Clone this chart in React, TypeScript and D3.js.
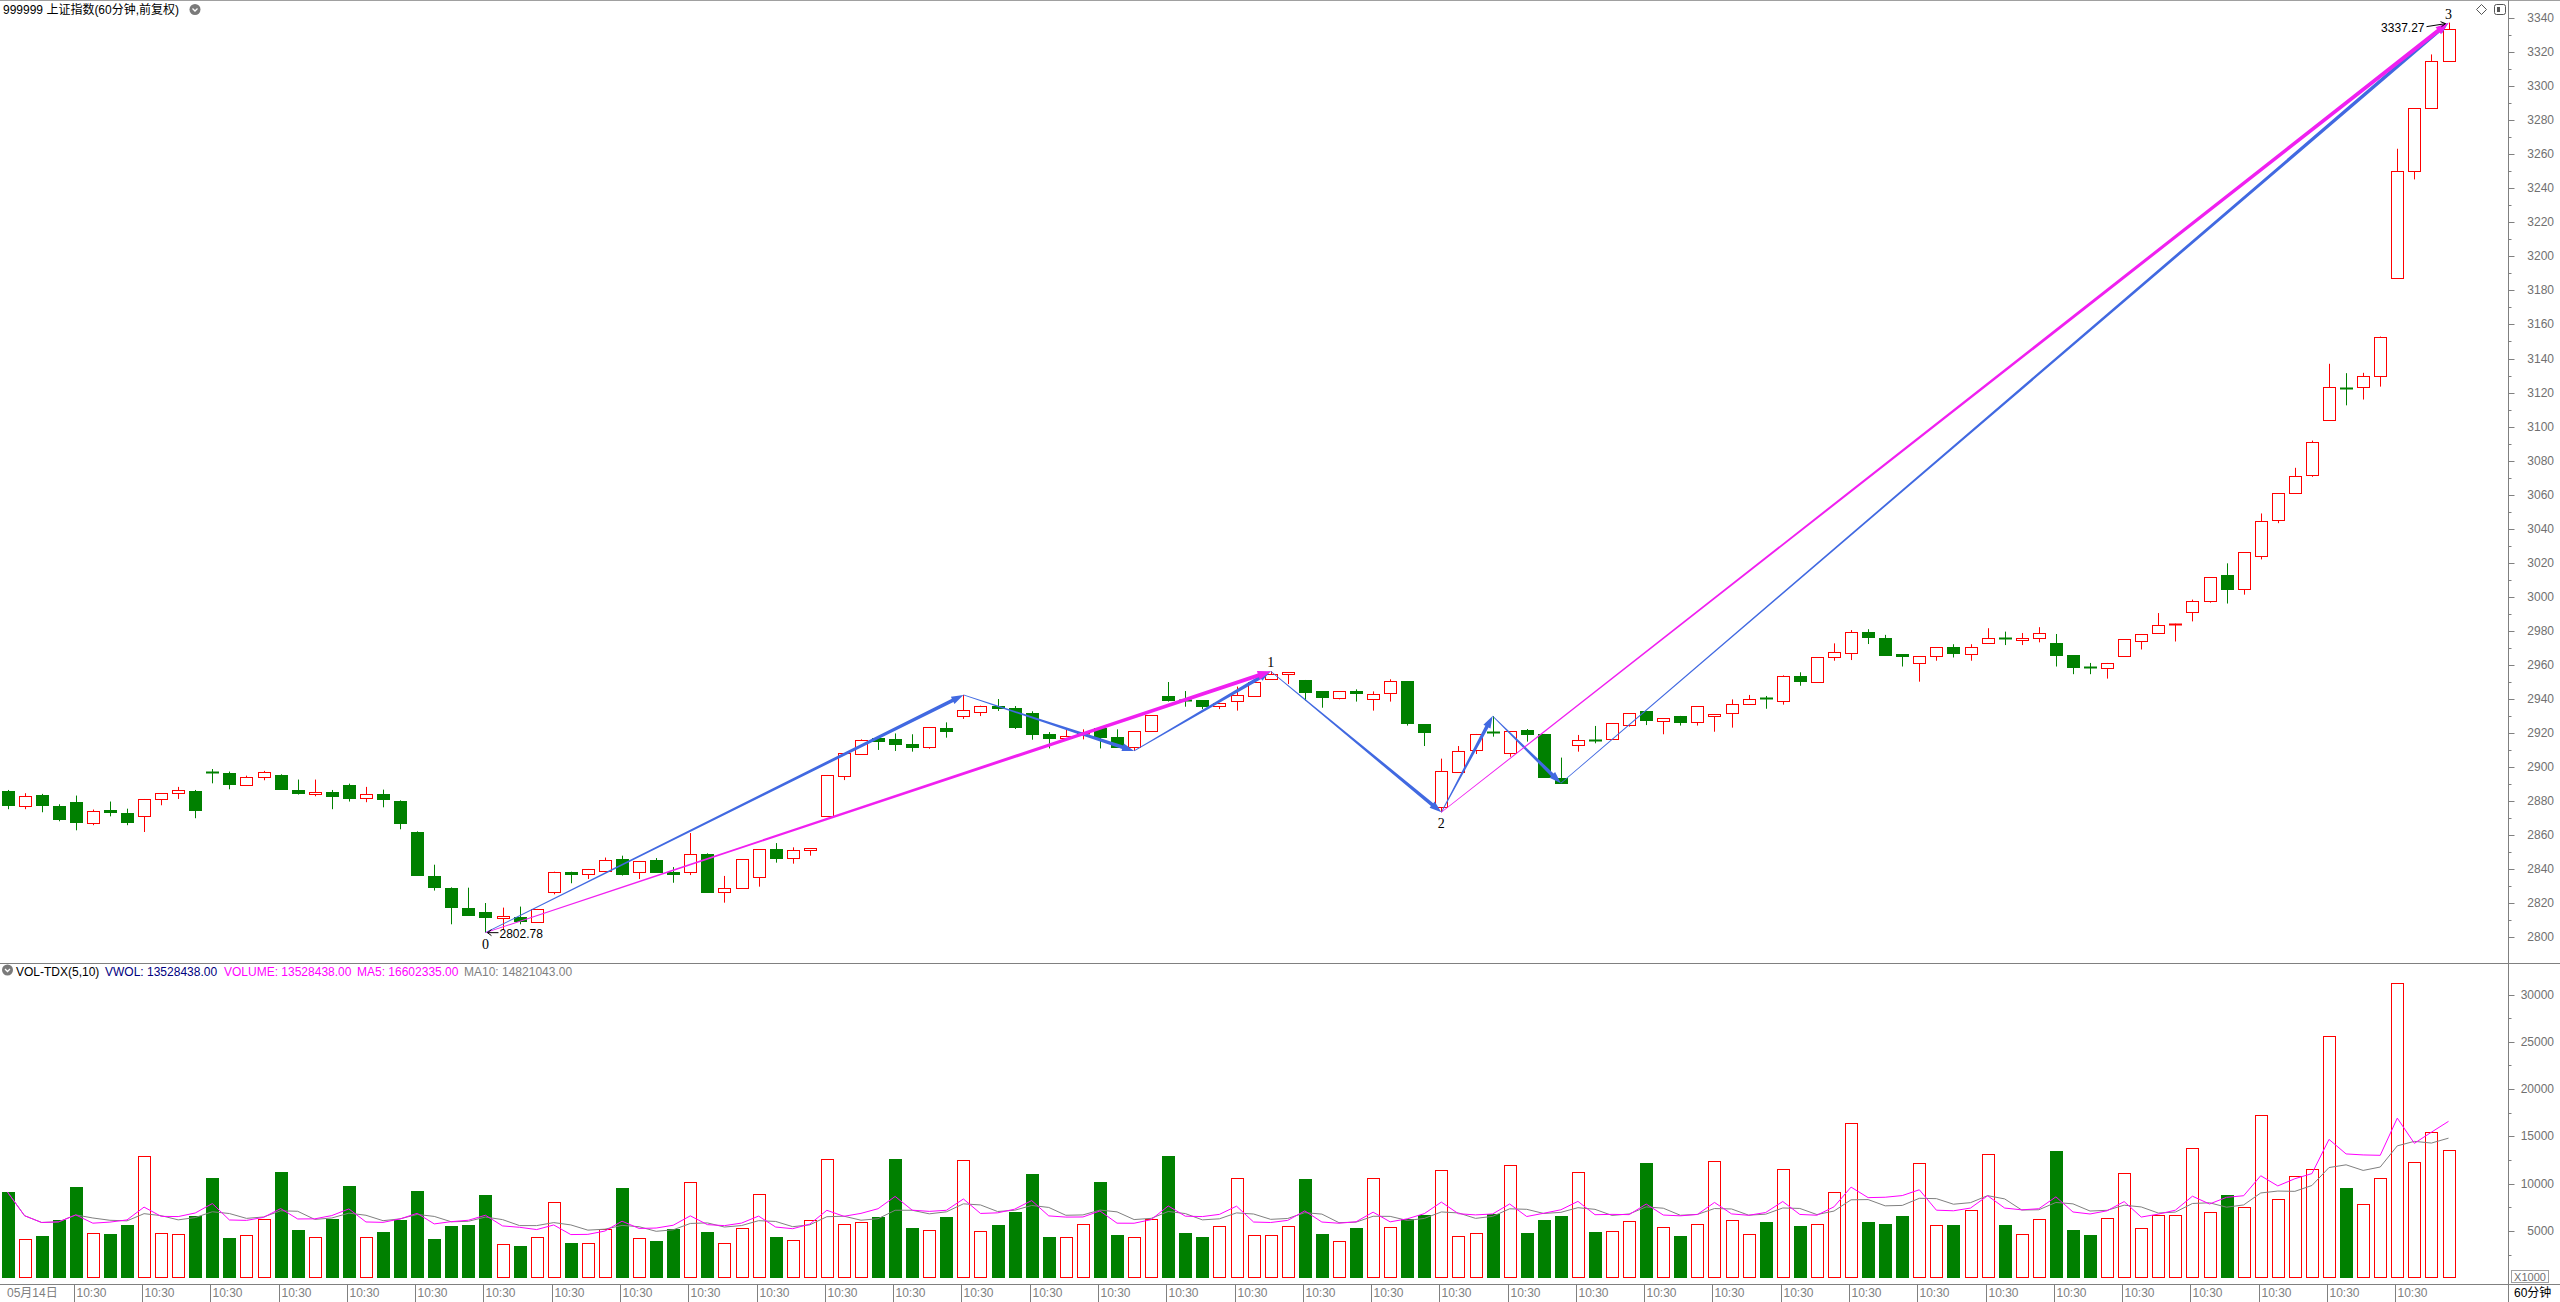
import * as d3 from 'd3';
import { useEffect, useRef } from 'react';

// 60-minute bars, 999999 上证指数
const opens = [
  2886.2, 2877.2, 2883.9, 2877.4, 2879.8, 2867.2, 2875.1, 2873.3, 2871.3, 2881.3, 2884.8, 2886.2,
  2896.9, 2896.8, 2889.5, 2894.2, 2895.6, 2886.8, 2884.1, 2885.6, 2889.7, 2881.9, 2884.5, 2880.3,
  2862.1, 2836.3, 2829.2, 2817.5, 2815.1, 2811.4, 2812.2, 2808.9, 2826.5, 2838.2, 2837.3, 2839.0,
  2846.3, 2838.2, 2845.4, 2838.4, 2838.2, 2849.0, 2826.5, 2828.8, 2835.3, 2851.9, 2846.4, 2851.1,
  2871.5, 2895.0, 2907.9, 2917.1, 2916.5, 2913.6, 2912.0, 2923.0, 2930.2, 2932.6, 2935.9, 2934.5,
  2931.6, 2919.5, 2916.9, 2919.3, 2922.8, 2917.7, 2911.6, 2921.0, 2941.6, 2939.2, 2939.4, 2935.7,
  2939.0, 2942.0, 2952.0, 2954.5, 2951.2, 2944.7, 2940.8, 2944.5, 2939.8, 2943.3, 2950.6, 2925.3,
  2876.4, 2897.3, 2909.9, 2920.8, 2908.1, 2921.8, 2919.5, 2893.4, 2912.8, 2916.1, 2916.3, 2924.9,
  2933.0, 2927.3, 2930.1, 2926.3, 2929.8, 2931.6, 2936.9, 2940.4, 2938.6, 2953.3, 2950.2, 2964.5,
  2966.8, 2979.6, 2975.6, 2966.2, 2961.0, 2965.2, 2970.4, 2966.5, 2972.7, 2975.9, 2974.6, 2975.6,
  2973.0, 2965.7, 2958.6, 2958.1, 2965.2, 2974.3, 2979.0, 2983.7, 2991.4, 2997.4, 3013.1, 3004.5,
  3023.9, 3045.1, 3060.8, 3071.3, 3103.6, 3122.7, 3123.0, 3129.5, 3187.5, 3250.4, 3287.1, 3314.6,
];
const highs = [
  2886.6, 2884.7, 2884.3, 2878.2, 2883.3, 2875.1, 2879.8, 2875.6, 2881.3, 2884.8, 2888.4, 2886.6,
  2898.9, 2897.4, 2895.0, 2897.8, 2895.8, 2892.7, 2892.7, 2886.6, 2890.3, 2888.4, 2886.8, 2880.5,
  2862.3, 2842.7, 2829.4, 2829.2, 2820.2, 2817.5, 2818.1, 2816.7, 2838.6, 2838.6, 2840.2, 2846.9,
  2848.0, 2844.9, 2846.6, 2841.3, 2861.3, 2849.4, 2836.1, 2845.8, 2851.7, 2855.4, 2852.9, 2852.3,
  2895.4, 2908.1, 2916.3, 2917.1, 2919.8, 2919.3, 2923.4, 2926.3, 2942.4, 2936.1, 2940.0, 2935.9,
  2932.8, 2920.6, 2922.0, 2922.2, 2922.8, 2922.2, 2921.0, 2930.4, 2950.0, 2944.7, 2939.4, 2937.5,
  2947.3, 2950.2, 2956.3, 2955.7, 2951.2, 2944.7, 2944.5, 2945.7, 2944.5, 2951.6, 2950.6, 2925.3,
  2905.0, 2912.4, 2919.5, 2930.0, 2921.2, 2922.4, 2919.5, 2905.6, 2918.9, 2924.2, 2925.7, 2931.6,
  2933.0, 2928.7, 2930.1, 2935.7, 2931.0, 2939.8, 2942.4, 2941.8, 2953.9, 2955.7, 2964.5, 2972.7,
  2980.5, 2981.0, 2977.7, 2966.2, 2965.2, 2970.4, 2972.2, 2972.2, 2981.6, 2979.6, 2978.8, 2982.2,
  2978.2, 2965.7, 2961.2, 2961.2, 2975.1, 2978.2, 2990.5, 2984.3, 2998.4, 3011.6, 3019.7, 3026.2,
  3049.0, 3060.8, 3075.8, 3091.8, 3136.9, 3131.4, 3131.6, 3152.9, 3263.2, 3287.1, 3318.6, 3337.27,
];
const lows = [
  2875.3, 2875.3, 2873.5, 2868.2, 2862.9, 2865.9, 2871.1, 2865.9, 2861.9, 2877.6, 2881.3, 2870.0,
  2890.5, 2887.0, 2889.3, 2892.3, 2887.0, 2883.9, 2882.9, 2875.3, 2879.8, 2879.4, 2876.4, 2863.5,
  2836.5, 2827.5, 2807.7, 2813.0, 2802.78, 2804.4, 2807.7, 2808.5, 2825.3, 2831.8, 2834.3, 2838.6,
  2836.3, 2834.3, 2838.6, 2832.1, 2836.6, 2826.3, 2820.4, 2828.8, 2829.8, 2843.9, 2843.3, 2848.0,
  2871.5, 2892.4, 2907.9, 2910.1, 2909.5, 2909.1, 2910.8, 2917.3, 2928.3, 2930.0, 2933.0, 2922.4,
  2916.1, 2911.0, 2916.1, 2916.3, 2911.0, 2912.0, 2909.5, 2921.0, 2938.5, 2935.5, 2934.1, 2934.1,
  2933.2, 2941.5, 2951.2, 2948.8, 2939.0, 2934.9, 2939.8, 2938.5, 2933.2, 2938.5, 2924.4, 2912.4,
  2873.5, 2896.7, 2907.7, 2917.9, 2906.1, 2915.0, 2893.8, 2890.5, 2909.1, 2914.0, 2916.3, 2923.8,
  2924.7, 2919.3, 2924.4, 2924.4, 2920.8, 2923.2, 2936.9, 2934.3, 2936.7, 2947.8, 2950.2, 2962.5,
  2962.9, 2972.3, 2965.7, 2959.1, 2950.2, 2962.5, 2964.4, 2962.5, 2972.7, 2971.7, 2971.7, 2973.3,
  2959.1, 2954.6, 2954.6, 2952.0, 2965.2, 2969.1, 2978.2, 2973.8, 2985.6, 2996.6, 2996.1, 3001.3,
  3022.0, 3043.3, 3060.8, 3070.5, 3103.6, 3112.5, 3115.9, 3123.5, 3187.5, 3245.2, 3287.1, 3314.6,
];
const closes = [
  2877.6, 2883.1, 2877.6, 2869.4, 2867.6, 2874.3, 2873.5, 2867.6, 2881.3, 2884.8, 2886.6, 2874.7,
  2896.7, 2889.9, 2894.2, 2897.2, 2887.0, 2884.7, 2885.4, 2882.9, 2881.7, 2884.5, 2881.1, 2867.0,
  2836.5, 2829.4, 2817.7, 2813.0, 2811.8, 2812.4, 2809.9, 2816.7, 2838.6, 2837.1, 2840.2, 2845.7,
  2837.5, 2844.9, 2838.6, 2837.0, 2848.8, 2826.9, 2828.8, 2845.8, 2851.7, 2846.8, 2851.1, 2852.3,
  2895.4, 2908.1, 2915.7, 2915.3, 2913.6, 2912.0, 2923.4, 2921.4, 2933.4, 2936.1, 2934.9, 2923.6,
  2919.6, 2917.3, 2918.3, 2919.9, 2917.9, 2912.0, 2921.0, 2930.4, 2939.6, 2938.8, 2936.1, 2937.5,
  2942.6, 2950.2, 2954.7, 2955.7, 2944.3, 2941.4, 2944.5, 2943.7, 2943.0, 2950.4, 2926.1, 2920.8,
  2897.5, 2909.5, 2919.5, 2920.2, 2921.2, 2919.7, 2894.4, 2890.5, 2915.9, 2915.5, 2925.7, 2931.6,
  2927.9, 2928.7, 2926.7, 2935.7, 2931.0, 2937.1, 2939.8, 2940.0, 2953.3, 2950.8, 2964.5, 2967.4,
  2979.2, 2976.2, 2965.7, 2965.4, 2965.2, 2970.4, 2967.0, 2970.4, 2975.6, 2975.4, 2975.9, 2979.0,
  2965.7, 2958.9, 2958.1, 2961.2, 2975.1, 2978.2, 2983.5, 2984.3, 2997.4, 3011.6, 3004.5, 3026.2,
  3044.8, 3060.8, 3070.8, 3091.0, 3123.0, 3122.2, 3129.5, 3152.9, 3250.1, 3287.1, 3314.6, 3333.5,
];
// volume in units of 1000
const volumes = [
  9119, 4114, 4467, 6159, 9647, 4749, 4678, 5630, 12925, 4749, 4643, 6581,
  10599, 4255, 4537, 6229, 11233, 5101, 4326, 6265, 9753, 4326, 4890, 6159,
  9224, 4149, 5524, 5630, 8802, 3586, 3410, 4326, 8062, 3727, 3692, 5172,
  9541, 4220, 3939, 5172, 10141, 4890, 3692, 5278, 8872, 4361, 4009, 6123,
  12572, 5700, 5912, 6476, 12607, 5313, 5066, 6476, 12466, 4961, 5630, 7004,
  11022, 4361, 4326, 5700, 10176, 4573, 4326, 6229, 12925, 4784, 4361, 5489,
  10564, 4537, 4537, 5489, 10494, 4678, 3903, 5313, 10564, 5383, 6265, 6652,
  11409, 4432, 4749, 6758, 11937, 4784, 6159, 6581, 11198, 4890, 4961, 6018,
  12184, 5383, 4467, 5700, 12361, 6123, 4643, 5947, 11515, 5524, 5700, 9084,
  16378, 5947, 5734, 6580, 12147, 5593, 5628, 7177, 13099, 5628, 4642, 6228,
  13451, 5099, 4571, 6333, 11090, 5275, 6650, 6650, 13733, 6967, 8800, 7496,
  17222, 8341, 10770, 11513, 25574, 9540, 7813, 10562, 31177, 12253, 15425, 13528,
];

const dayLabels = [
  '05月14日', '10:30', '10:30', '10:30', '10:30', '10:30', '10:30', '10:30', '10:30', '10:30',
  '10:30', '10:30', '10:30', '10:30', '10:30', '10:30', '10:30', '10:30', '10:30', '10:30',
  '10:30', '10:30', '10:30', '10:30', '10:30', '10:30', '10:30', '10:30', '10:30', '10:30',
  '10:30', '10:30', '10:30', '10:30', '10:30', '10:30',
];
const priceTicks = [
  2800, 2820, 2840, 2860, 2880, 2900, 2920, 2940, 2960, 2980, 3000, 3020, 3040, 3060,
  3080, 3100, 3120, 3140, 3160, 3180, 3200, 3220, 3240, 3260, 3280, 3300, 3320, 3340,
];
const volumeTicks = [5000, 10000, 15000, 20000, 25000, 30000];

// wave drawing: [bar index, price]
const blueWave: [number, number][] = [
  [28, 2802.78], [56, 2942.4], [66, 2909.5], [74, 2956.3],
  [84, 2873.5], [87, 2930.0], [91, 2890.5], [143, 3337.27],
];
const magentaWave: [number, number][][] = [
  [[28, 2802.78], [74, 2956.3]],
  [[84, 2873.5], [143, 3337.27]],
];
const waveLabels = [
  { bar: 28, price: 2802.78, text: '0', below: true },
  { bar: 74, price: 2956.3, text: '1', below: false },
  { bar: 84, price: 2873.5, text: '2', below: true },
  { bar: 143, price: 3337.27, text: '3', below: false },
];

const RED = '#ff0000';
const GREEN = '#008000';
const BLUE = '#4169e1';
const MAGENTA = '#f020f0';
const GRAY = '#808080';
const FONT = 'Liberation Sans, Arial, "Noto Sans CJK SC", sans-serif';

function arrowPoints(x1: number, y1: number, x2: number, y2: number, w0: number, w1: number, hl: number, hw: number) {
  const dx = x2 - x1, dy = y2 - y1;
  const len = Math.hypot(dx, dy);
  const ux = dx / len, uy = dy / len;
  const nx = -uy, ny = ux;
  const bx = x2 - ux * hl, by = y2 - uy * hl;
  return [
    [x1 + nx * w0 / 2, y1 + ny * w0 / 2],
    [bx + nx * w1 / 2, by + ny * w1 / 2],
    [bx + nx * hw / 2, by + ny * hw / 2],
    [x2, y2],
    [bx - nx * hw / 2, by - ny * hw / 2],
    [bx - nx * w1 / 2, by - ny * w1 / 2],
    [x1 - nx * w0 / 2, y1 - ny * w0 / 2],
  ].map(p => p.join(',')).join(' ');
}

function movingAvg(values: number[], n: number) {
  return values.map((_, i) => {
    const win = values.slice(Math.max(0, i - n + 1), i + 1);
    return d3.mean(win) as number;
  });
}

const App = () => {
  const svgRef = useRef<SVGSVGElement | null>(null);

  useEffect(() => {
    if (!svgRef.current) return;
    const width = 2560;
    const height = 1302;
    const axisX = 2508.5;
    const volTop = 963.5;
    const timeY = 1284.5;

    const svg = d3.select(svgRef.current)
      .html('')
      .attr('width', width)
      .attr('height', height)
      .style('font-family', FONT);

    svg.append('rect').attr('width', width).attr('height', height).attr('fill', '#fff');

    const n = closes.length;
    const x = d3.scaleLinear().domain([0, n - 1]).range([7.5, 2448.5]);
    const y = d3.scaleLinear().domain([2800, 3340]).range([937.4, 18]);
    const yv = d3.scaleLinear().domain([0, 30000]).range([1278.3, 994.5]);
    const cx = (i: number) => Math.round(x(i)) + 0.5;

    // frame lines
    svg.append('line').attr('x1', 0).attr('x2', width).attr('y1', 0.5).attr('y2', 0.5).attr('stroke', '#a0a0a0');
    svg.append('line').attr('x1', 0).attr('x2', width).attr('y1', volTop).attr('y2', volTop).attr('stroke', GRAY);
    svg.append('line').attr('x1', 0).attr('x2', width).attr('y1', timeY).attr('y2', timeY).attr('stroke', GRAY);
    svg.append('line').attr('x1', axisX).attr('x2', axisX).attr('y1', 0).attr('y2', height).attr('stroke', GRAY);

    // header
    svg.append('text').attr('x', 3).attr('y', 14).attr('font-size', 12).attr('fill', '#000')
      .text('999999 上证指数(60分钟,前复权)');
    const icon = (gx: number, gy: number) => {
      svg.append('circle').attr('cx', gx).attr('cy', gy).attr('r', 5.5).attr('fill', '#7a7a7a');
      svg.append('path').attr('d', `M${gx - 2.5},${gy - 1} L${gx},${gy + 1.5} L${gx + 2.5},${gy - 1}`)
        .attr('fill', 'none').attr('stroke', '#fff').attr('stroke-width', 1.3);
    };
    icon(195, 9.5);

    // top-right icons
    svg.append('path').attr('d', 'M2481.5,4.5 L2486.5,9.5 L2481.5,14.5 L2476.5,9.5 Z')
      .attr('fill', 'none').attr('stroke', '#555');
    svg.append('rect').attr('x', 2494.5).attr('y', 4.5).attr('width', 11).attr('height', 10).attr('rx', 2)
      .attr('fill', 'none').attr('stroke', '#555');
    svg.append('rect').attr('x', 2497).attr('y', 7).attr('width', 3).attr('height', 5).attr('fill', '#555');

    // price axis
    const pAxis = svg.append('g');
    d3.range(2800, 3341, 10).forEach(v => {
      const yy = Math.round(y(v)) + 0.5;
      pAxis.append('line').attr('x1', axisX).attr('x2', axisX + (v % 20 === 0 ? 6 : 3))
        .attr('y1', yy).attr('y2', yy).attr('stroke', GRAY);
    });
    priceTicks.forEach(v => {
      pAxis.append('text').attr('x', 2554).attr('y', y(v) + 4).attr('text-anchor', 'end')
        .attr('font-size', 12).attr('fill', '#707070').text(v);
    });

    // volume axis
    const vAxis = svg.append('g');
    d3.range(2500, 31000, 2500).forEach(v => {
      const yy = Math.round(yv(v)) + 0.5;
      vAxis.append('line').attr('x1', axisX).attr('x2', axisX + (v % 5000 === 0 ? 6 : 3))
        .attr('y1', yy).attr('y2', yy).attr('stroke', GRAY);
    });
    volumeTicks.forEach(v => {
      vAxis.append('text').attr('x', 2554).attr('y', yv(v) + 4).attr('text-anchor', 'end')
        .attr('font-size', 12).attr('fill', '#707070').text(v);
    });
    vAxis.append('rect').attr('x', 2511.5).attr('y', 1270.5).attr('width', 37).attr('height', 12)
      .attr('fill', '#fff').attr('stroke', '#a0a0a0');
    vAxis.append('text').attr('x', 2530).attr('y', 1280.5).attr('text-anchor', 'middle')
      .attr('font-size', 11).attr('fill', '#707070').text('X1000');
    svg.append('text').attr('x', 2514).attr('y', 1297).attr('font-size', 12).attr('fill', '#000').text('60分钟');

    // time axis
    dayLabels.forEach((label, d) => {
      if (d === 0) {
        svg.append('text').attr('x', 7).attr('y', 1297).attr('font-size', 12).attr('fill', GRAY).text(label);
        return;
      }
      const sx = Math.round(x(d * 4)) - 1.5;
      svg.append('line').attr('x1', sx).attr('x2', sx).attr('y1', timeY).attr('y2', height).attr('stroke', GRAY);
      svg.append('text').attr('x', sx + 2).attr('y', 1297).attr('font-size', 12).attr('fill', GRAY).text(label);
    });

    // candles
    const candles = svg.append('g');
    for (let i = 0; i < n; i++) {
      const o = opens[i], c = closes[i];
      const up = c >= o;
      const col = up ? RED : GREEN;
      const xc = cx(i);
      candles.append('line').attr('x1', xc).attr('x2', xc)
        .attr('y1', y(highs[i])).attr('y2', y(lows[i])).attr('stroke', col);
      const top = Math.round(y(Math.max(o, c)));
      const bot = Math.round(y(Math.min(o, c)));
      if (bot - top < 2) {
        candles.append('line').attr('x1', xc - 6.5).attr('x2', xc + 6.5)
          .attr('y1', top + 0.5).attr('y2', top + 0.5).attr('stroke', col).attr('stroke-width', Math.max(1, bot - top + 1));
      } else if (up) {
        candles.append('rect').attr('x', xc - 6).attr('y', top + 0.5).attr('width', 12).attr('height', bot - top)
          .attr('fill', '#fff').attr('stroke', RED);
      } else {
        candles.append('rect').attr('x', xc - 6.5).attr('y', top).attr('width', 13).attr('height', bot - top + 1)
          .attr('fill', GREEN);
      }
    }

    // wave arrows
    const waves = svg.append('g');
    for (let k = 0; k < blueWave.length - 1; k++) {
      const [b1, p1] = blueWave[k];
      const [b2, p2] = blueWave[k + 1];
      waves.append('polygon')
        .attr('points', arrowPoints(x(b1), y(p1), x(b2), y(p2), 0.8, 3.6, 12, 8))
        .attr('fill', BLUE);
    }
    magentaWave.forEach(([[b1, p1], [b2, p2]]) => {
      waves.append('polygon')
        .attr('points', arrowPoints(x(b1), y(p1), x(b2), y(p2), 0.8, 4, 13, 9))
        .attr('fill', MAGENTA);
    });
    waveLabels.forEach(l => {
      waves.append('text').attr('x', x(l.bar)).attr('y', l.below ? y(l.price) + 16 : y(l.price) - 4)
        .attr('text-anchor', 'middle').attr('font-size', 14).attr('font-family', 'Liberation Serif, serif')
        .attr('fill', '#000').text(l.text);
    });

    // min / max markers
    const lowIdx = d3.minIndex(lows);
    const highIdx = d3.maxIndex(highs);
    const lx = x(lowIdx), ly = y(lows[lowIdx]);
    waves.append('line').attr('x1', lx + 2).attr('x2', lx + 13).attr('y1', ly).attr('y2', ly).attr('stroke', '#000');
    waves.append('path').attr('d', `M${lx + 6},${ly - 3} L${lx + 2},${ly} L${lx + 6},${ly + 3}`).attr('fill', 'none').attr('stroke', '#000');
    waves.append('text').attr('x', lx + 14).attr('y', ly + 5.5).attr('font-size', 12).attr('fill', '#000')
      .text(lows[lowIdx].toFixed(2));
    const hx = x(highIdx), hy = y(highs[highIdx]);
    waves.append('line').attr('x1', hx - 22).attr('x2', hx - 3).attr('y1', hy + 4).attr('y2', hy + 1).attr('stroke', '#000');
    waves.append('path').attr('d', `M${hx - 8},${hy - 1} L${hx - 3},${hy + 1} L${hx - 7},${hy + 4}`).attr('fill', 'none').attr('stroke', '#000');
    waves.append('text').attr('x', hx - 24).attr('y', hy + 9).attr('text-anchor', 'end').attr('font-size', 12).attr('fill', '#000')
      .text(highs[highIdx].toFixed(2));

    // volume header
    icon(7.5, 970);
    const vh = svg.append('text').attr('y', 975.5).attr('font-size', 12);
    vh.append('tspan').attr('x', 16).attr('fill', '#000').text('VOL-TDX(5,10)');
    vh.append('tspan').attr('x', 105).attr('fill', '#000080').text('VWOL: 13528438.00');
    vh.append('tspan').attr('x', 224).attr('fill', '#ff00ff').text('VOLUME: 13528438.00');
    vh.append('tspan').attr('x', 357).attr('fill', '#ff00ff').text('MA5: 16602335.00');
    vh.append('tspan').attr('x', 464).attr('fill', GRAY).text('MA10: 14821043.00');

    // volume bars
    const vg = svg.append('g');
    const base = Math.round(yv(0));
    volumes.forEach((v, i) => {
      const up = closes[i] >= opens[i];
      const xc = cx(i);
      const top = Math.round(yv(v));
      if (up) {
        vg.append('rect').attr('x', xc - 6).attr('y', top + 0.5).attr('width', 12).attr('height', base - top - 1)
          .attr('fill', '#fff').attr('stroke', RED);
      } else {
        vg.append('rect').attr('x', xc - 6.5).attr('y', top).attr('width', 13).attr('height', base - top)
          .attr('fill', GREEN);
      }
    });

    const ma5 = movingAvg(volumes, 5);
    const ma10 = movingAvg(volumes, 10);
    const line = d3.line<number>().x((_, i) => x(i)).y(d => yv(d));
    vg.append('path').datum(ma10).attr('fill', 'none').attr('stroke', GRAY).attr('stroke-width', 1).attr('d', line);
    vg.append('path').datum(ma5).attr('fill', 'none').attr('stroke', '#ff00ff').attr('stroke-width', 1).attr('d', line);
  }, []);

  return <svg ref={svgRef} style={{ position: 'absolute', left: 0, top: 0, display: 'block' }} />;
};

export default App;
